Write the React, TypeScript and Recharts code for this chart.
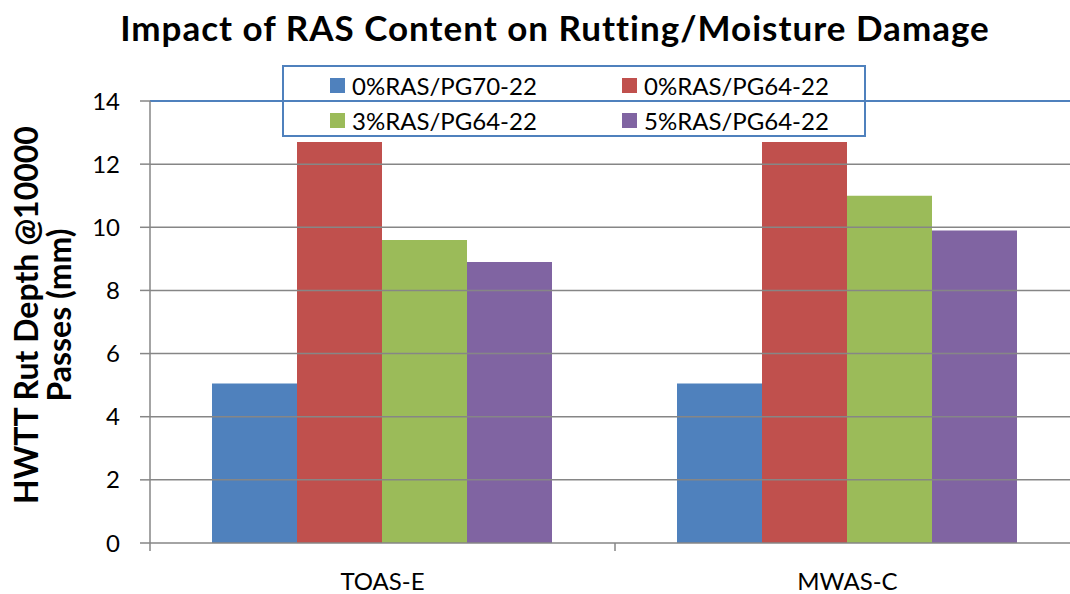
import React from "react";
import { BarChart, Bar, XAxis, YAxis, ReferenceLine } from "recharts";

const categories = ["TOAS-E", "MWAS-C"];
const pg70Ras0 = [5.05, 5.05];
const pg64Ras0 = [12.7, 12.7];
const pg64Ras3 = [9.6, 11.0];
const pg64Ras5 = [8.9, 9.9];
const yTicks = [0, 2, 4, 6, 8, 10, 12, 14];

const series = [
  { key: "pg70Ras0", name: "0%RAS/PG70-22", color: "#4f81bd" },
  { key: "pg64Ras0", name: "0%RAS/PG64-22", color: "#c0504d" },
  { key: "pg64Ras3", name: "3%RAS/PG64-22", color: "#9bbb59" },
  { key: "pg64Ras5", name: "5%RAS/PG64-22", color: "#8064a2" },
];

const data = categories.map((name, i) => ({
  name,
  pg70Ras0: pg70Ras0[i],
  pg64Ras0: pg64Ras0[i],
  pg64Ras3: pg64Ras3[i],
  pg64Ras5: pg64Ras5[i],
}));

const FONT = "Lato, 'Open Sans', sans-serif";
const GRID = "#868686";

// category label plus the Excel-style tick marks between categories
const XTick = (props: any) => {
  const { x, payload, index, width, visibleTicksCount } = props;
  const band = width && visibleTicksCount ? width / visibleTicksCount : 465;
  const last = index === (visibleTicksCount || 2) - 1;
  const axisY = 543;
  return (
    <g>
      <line x1={x - band / 2} x2={x - band / 2} y1={axisY} y2={axisY + 8} stroke={GRID} strokeWidth={1.5} />
      {last && <line x1={x + band / 2} x2={x + band / 2} y1={axisY} y2={axisY + 8} stroke={GRID} strokeWidth={1.5} />}
      <text x={x} y={axisY + 47} textAnchor="middle" fontSize={24} fill="#000" fontFamily={FONT}>
        {payload.value}
      </text>
    </g>
  );
};

export default function App() {
  const top = yTicks[yTicks.length - 1];
  return (
    <div style={{ position: "absolute", left: 0, top: 0, width: 1070, height: 594, overflow: "hidden", background: "#fff", fontFamily: FONT }}>
      <BarChart
        width={1090}
        height={594}
        data={data}
        margin={{ top: 101, right: 10, bottom: 0, left: 0 }}
        barCategoryGap={62}
        barGap={0}
      >
        {yTicks.slice(1).map((t) => (
          <ReferenceLine
            key={t}
            y={t}
            stroke={t === top ? "#4f81bd" : GRID}
            strokeWidth={t === top ? 2 : 1.5}
          />
        ))}
        <XAxis
          dataKey="name"
          height={51}
          axisLine={{ stroke: GRID, strokeWidth: 1.5 }}
          tickLine={false}
          tickSize={8}
          tickMargin={0}
          tick={<XTick />}
          interval={0}
        />
        <YAxis
          width={150}
          domain={[0, 14]}
          ticks={yTicks}
          interval={0}
          axisLine={{ stroke: GRID, strokeWidth: 1.5 }}
          tickLine={{ stroke: GRID, strokeWidth: 1.5 }}
          tickSize={10}
          tickMargin={20}
          tick={{ fontSize: 24, fill: "#000", fontFamily: FONT }}
        />
        {series.map((s) => (
          <Bar key={s.key} dataKey={s.key} name={s.name} fill={s.color} isAnimationActive={false} />
        ))}
      </BarChart>

      <div
        style={{
          position: "absolute",
          left: 0,
          top: 6,
          width: 1110,
          textAlign: "center",
          fontSize: 35,
          letterSpacing: 1,
          fontWeight: 700,
          color: "#000",
          whiteSpace: "nowrap",
        }}
      >
        Impact of RAS Content on Rutting/Moisture Damage
      </div>

      <div style={{ position: "absolute", left: 41.5, top: 315, width: 0, height: 0 }}>
        <div
          style={{
            position: "absolute",
            transform: "translate(-50%, -50%) rotate(-90deg)",
            fontSize: 32,
            fontWeight: 700,
            lineHeight: "33px",
            textAlign: "center",
            whiteSpace: "nowrap",
            color: "#000",
          }}
        >
          HWTT Rut Depth @10000
          <br />
          Passes (mm)
        </div>
      </div>

      <div
        style={{
          position: "absolute",
          left: 282,
          top: 65,
          width: 584,
          height: 72,
          border: "2px solid #4f81bd",
          boxSizing: "border-box",
        }}
      >
        {series.map((s, i) => (
          <div
            key={s.key}
            style={{
              position: "absolute",
              left: i % 2 === 0 ? 46 : 338,
              top: i < 2 ? 2 : 37,
              height: 32,
              display: "flex",
              alignItems: "center",
              fontSize: 24,
              color: "#000",
              whiteSpace: "nowrap",
            }}
          >
            <span style={{ display: "inline-block", width: 15, height: 15, background: s.color, marginRight: 7 }} />
            {s.name}
          </div>
        ))}
      </div>
    </div>
  );
}
